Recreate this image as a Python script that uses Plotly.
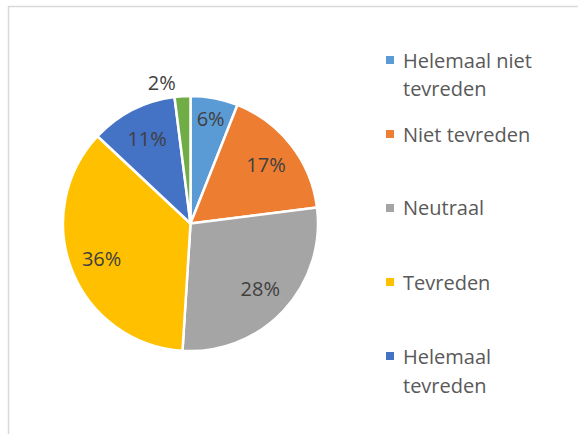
import plotly.graph_objects as go

categories = ["Helemaal niet tevreden", "Niet tevreden", "Neutraal", "Tevreden", "Helemaal tevreden", "Overig"]
values = [6, 17, 28, 36, 11, 2]
colors = ["#5B9BD5", "#ED7D31", "#A5A5A5", "#FFC000", "#4472C4", "#70AD47"]
legend_lines = [["Helemaal niet", "tevreden"], ["Niet tevreden"], ["Neutraal"], ["Tevreden"], ["Helemaal", "tevreden"]]

W, H = 578, 434
FONT = "Open Sans"
domain = dict(x=[63 / W, 318 / W], y=[(H - 351) / H, (H - 96) / H])

fig = go.Figure()
# coloured slices
fig.add_trace(go.Pie(
    labels=categories, values=values, sort=False, direction="clockwise", rotation=0,
    marker=dict(colors=colors, line=dict(color="white", width=2.5)),
    textinfo="none", domain=domain, showlegend=False, hoverinfo="label+percent",
))
# transparent ring that carries the percentage labels (places them mid-ring like Excel)
fig.add_trace(go.Pie(
    labels=categories, values=values, sort=False, direction="clockwise", rotation=0,
    hole=0.5,
    marker=dict(colors=["rgba(0,0,0,0)"] * len(values), line=dict(width=0)),
    texttemplate="%{percent:.0%}",
    textposition=["inside", "inside", "inside", "inside", "inside", "outside"],
    insidetextorientation="horizontal",
    textfont=dict(family=FONT, size=20, color="#404040"),
    domain=domain, showlegend=False, hoverinfo="skip",
))

shapes = [dict(type="rect", xref="paper", yref="paper",
               x0=8.5 / W, x1=1.2, y0=-0.2, y1=1 - 6.5 / H,
               line=dict(color="#D9D9D9", width=1.5), fillcolor="rgba(0,0,0,0)", layer="below")]
annotations = []
y_start, step, line_gap = 60, 74, 29
for i, lines in enumerate(legend_lines):
    yc = y_start + i * step
    shapes.append(dict(type="rect", xref="paper", yref="paper",
                       x0=386 / W, x1=394 / W, y0=1 - (yc + 4) / H, y1=1 - (yc - 4) / H,
                       line=dict(width=0), fillcolor=colors[i]))
    for j, t in enumerate(lines):
        annotations.append(dict(text=t, xref="paper", yref="paper",
                                x=401 / W, y=1 - (yc + j * line_gap) / H,
                                xanchor="left", yanchor="middle", showarrow=False,
                                font=dict(family=FONT, size=20, color="#595959")))

fig.update_layout(
    width=W, height=H,
    margin=dict(l=0, r=0, t=0, b=0),
    paper_bgcolor="white",
    plot_bgcolor="white",
    shapes=shapes,
    annotations=annotations,
)
fig.write_html("out.html", config={"displayModeBar": False},
               post_script="document.body.style.margin='0px';document.body.style.overflow='hidden';")
